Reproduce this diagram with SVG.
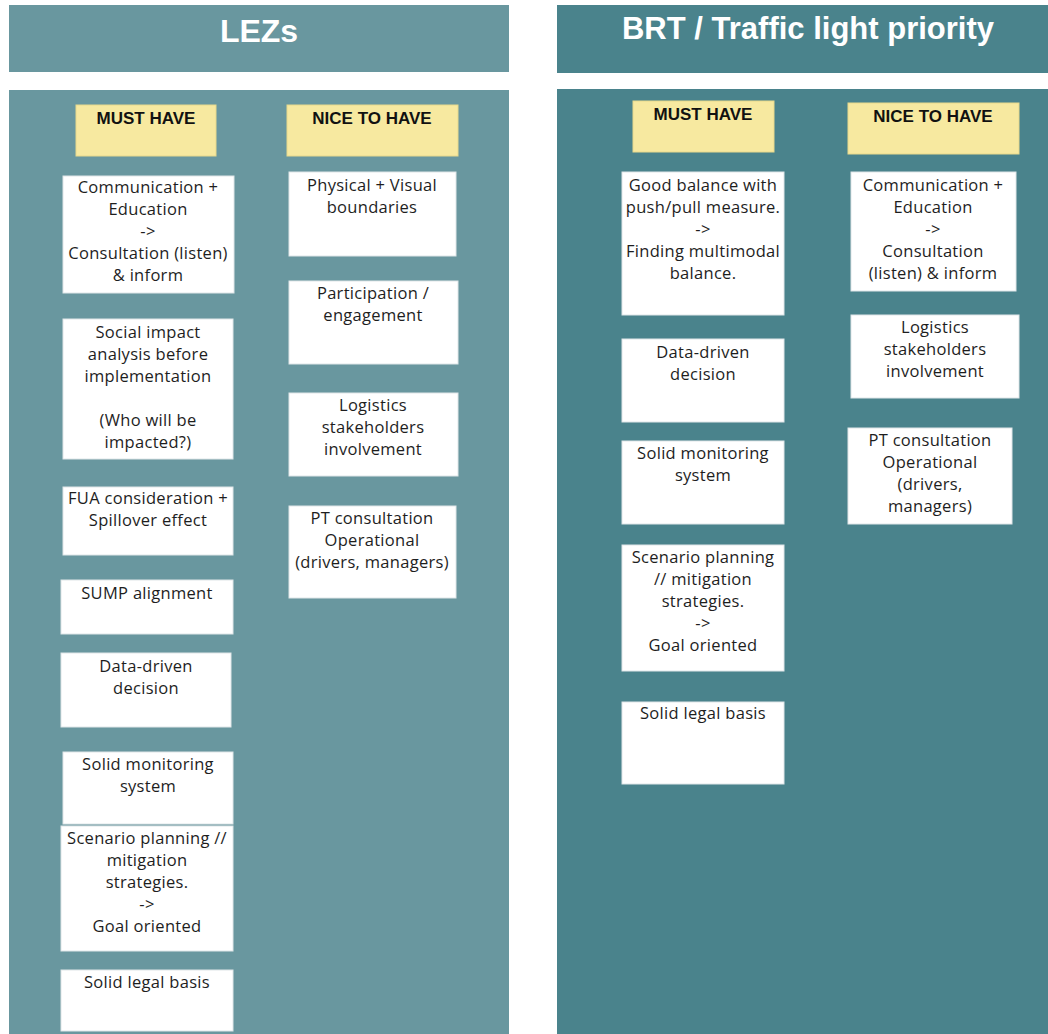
<svg xmlns="http://www.w3.org/2000/svg" width="1048" height="1034" viewBox="0 0 1048 1034">
<style>
.bgL{fill:#69979f}
.bgR{fill:#4a838c}
.title{font-family:"Liberation Sans",Arial,sans-serif;font-weight:bold;font-size:32px;fill:#ffffff;text-anchor:middle}
.sticky{fill:#f7e9a0;stroke:#e8d98c;stroke-width:1}
.lab{font-family:"Liberation Sans",Arial,sans-serif;font-weight:bold;font-size:17px;fill:#111111;text-anchor:middle}
.note{fill:#ffffff;stroke:#dfe6e8;stroke-width:1}
.t{font-family:"Open Sans","Liberation Sans",sans-serif;font-size:16.5px;letter-spacing:0.3px;fill:#1e1e1e;text-anchor:middle}
</style>
<rect x="0" y="0" width="1048" height="1034" fill="#ffffff"/>
<g id="panel-lez">
<rect class="bgL" x="9" y="5" width="500" height="67"/>
<text class="title" x="259" y="42">LEZs</text>
<rect class="bgL" x="9" y="90" width="500" height="944"/>
</g>
<g id="panel-brt">
<rect class="bgR" x="557" y="5" width="491" height="68"/>
<text class="title" x="808" y="39" style="font-size:31px">BRT / Traffic light priority</text>
<rect class="bgR" x="557" y="89" width="491" height="945"/>
</g>
<g id="connectors"/>
<g id="lez-must-header"><rect class="sticky" x="76" y="105" width="140" height="51"/><text class="lab" x="146" y="124">MUST HAVE</text></g>
<g id="lez-nice-header"><rect class="sticky" x="287" y="105" width="171" height="51"/><text class="lab" x="372" y="124">NICE TO HAVE</text></g>
<g id="brt-must-header"><rect class="sticky" x="633" y="101" width="141" height="51"/><text class="lab" x="703" y="120">MUST HAVE</text></g>
<g id="brt-nice-header"><rect class="sticky" x="848" y="103" width="171" height="51"/><text class="lab" x="933" y="122">NICE TO HAVE</text></g>

<g id="lez-m1"><rect class="note" x="63" y="176" width="171" height="117"/>
<text class="t"><tspan x="148" y="193">Communication +</tspan><tspan x="148" y="215">Education</tspan><tspan x="148" y="237">-&gt;</tspan><tspan x="148" y="259">Consultation (listen)</tspan><tspan x="148" y="281">&amp; inform</tspan></text></g>
<g id="lez-m2"><rect class="note" x="63" y="319" width="170" height="140"/>
<text class="t"><tspan x="148" y="338">Social impact</tspan><tspan x="148" y="360">analysis before</tspan><tspan x="148" y="382">implementation</tspan><tspan x="148" y="426">(Who will be</tspan><tspan x="148" y="448">impacted?)</tspan></text></g>
<g id="lez-m3"><rect class="note" x="63" y="487" width="170" height="68"/>
<text class="t"><tspan x="148" y="504">FUA consideration +</tspan><tspan x="148" y="526">Spillover effect</tspan></text></g>
<g id="lez-m4"><rect class="note" x="61" y="580" width="172" height="54"/>
<text class="t"><tspan x="147" y="599">SUMP alignment</tspan></text></g>
<g id="lez-m5"><rect class="note" x="61" y="653" width="170" height="74"/>
<text class="t"><tspan x="146" y="672">Data-driven</tspan><tspan x="146" y="694">decision</tspan></text></g>
<g id="lez-m6"><rect class="note" x="63" y="752" width="170" height="72"/>
<text class="t"><tspan x="148" y="770">Solid monitoring</tspan><tspan x="148" y="792">system</tspan></text></g>
<g id="lez-m7"><rect class="note" x="61" y="826" width="172" height="125"/>
<text class="t"><tspan x="147" y="844">Scenario planning //</tspan><tspan x="147" y="866">mitigation</tspan><tspan x="147" y="888">strategies.</tspan><tspan x="147" y="910">-&gt;</tspan><tspan x="147" y="932">Goal oriented</tspan></text></g>
<g id="lez-m8"><rect class="note" x="61" y="970" width="172" height="61"/>
<text class="t"><tspan x="147" y="988">Solid legal basis</tspan></text></g>

<g id="lez-n1"><rect class="note" x="289" y="172" width="167" height="84"/>
<text class="t"><tspan x="372" y="191">Physical + Visual</tspan><tspan x="372" y="213">boundaries</tspan></text></g>
<g id="lez-n2"><rect class="note" x="289" y="281" width="169" height="83"/>
<text class="t"><tspan x="373" y="299">Participation /</tspan><tspan x="373" y="321">engagement</tspan></text></g>
<g id="lez-n3"><rect class="note" x="289" y="393" width="169" height="83"/>
<text class="t"><tspan x="373" y="411">Logistics</tspan><tspan x="373" y="433">stakeholders</tspan><tspan x="373" y="455">involvement</tspan></text></g>
<g id="lez-n4"><rect class="note" x="289" y="506" width="167" height="92"/>
<text class="t"><tspan x="372" y="524">PT consultation</tspan><tspan x="372" y="546">Operational</tspan><tspan x="372" y="568">(drivers, managers)</tspan></text></g>

<g id="brt-m1"><rect class="note" x="622" y="172" width="162" height="143"/>
<text class="t"><tspan x="703" y="191">Good balance with</tspan><tspan x="703" y="213">push/pull measure.</tspan><tspan x="703" y="235">-&gt;</tspan><tspan x="703" y="257">Finding multimodal</tspan><tspan x="703" y="279">balance.</tspan></text></g>
<g id="brt-m2"><rect class="note" x="622" y="339" width="162" height="83"/>
<text class="t"><tspan x="703" y="358">Data-driven</tspan><tspan x="703" y="380">decision</tspan></text></g>
<g id="brt-m3"><rect class="note" x="622" y="441" width="162" height="83"/>
<text class="t"><tspan x="703" y="459">Solid monitoring</tspan><tspan x="703" y="481">system</tspan></text></g>
<g id="brt-m4"><rect class="note" x="622" y="545" width="162" height="126"/>
<text class="t"><tspan x="703" y="563">Scenario planning</tspan><tspan x="703" y="585">// mitigation</tspan><tspan x="703" y="607">strategies.</tspan><tspan x="703" y="629">-&gt;</tspan><tspan x="703" y="651">Goal oriented</tspan></text></g>
<g id="brt-m5"><rect class="note" x="622" y="702" width="162" height="82"/>
<text class="t"><tspan x="703" y="719">Solid legal basis</tspan></text></g>

<g id="brt-n1"><rect class="note" x="851" y="172" width="165" height="119"/>
<text class="t"><tspan x="933" y="191">Communication +</tspan><tspan x="933" y="213">Education</tspan><tspan x="933" y="235">-&gt;</tspan><tspan x="933" y="257">Consultation</tspan><tspan x="933" y="279">(listen) &amp; inform</tspan></text></g>
<g id="brt-n2"><rect class="note" x="851" y="315" width="168" height="83"/>
<text class="t"><tspan x="935" y="333">Logistics</tspan><tspan x="935" y="355">stakeholders</tspan><tspan x="935" y="377">involvement</tspan></text></g>
<g id="brt-n3"><rect class="note" x="848" y="428" width="164" height="96"/>
<text class="t"><tspan x="930" y="446">PT consultation</tspan><tspan x="930" y="468">Operational</tspan><tspan x="930" y="490">(drivers,</tspan><tspan x="930" y="512">managers)</tspan></text></g>
</svg>
